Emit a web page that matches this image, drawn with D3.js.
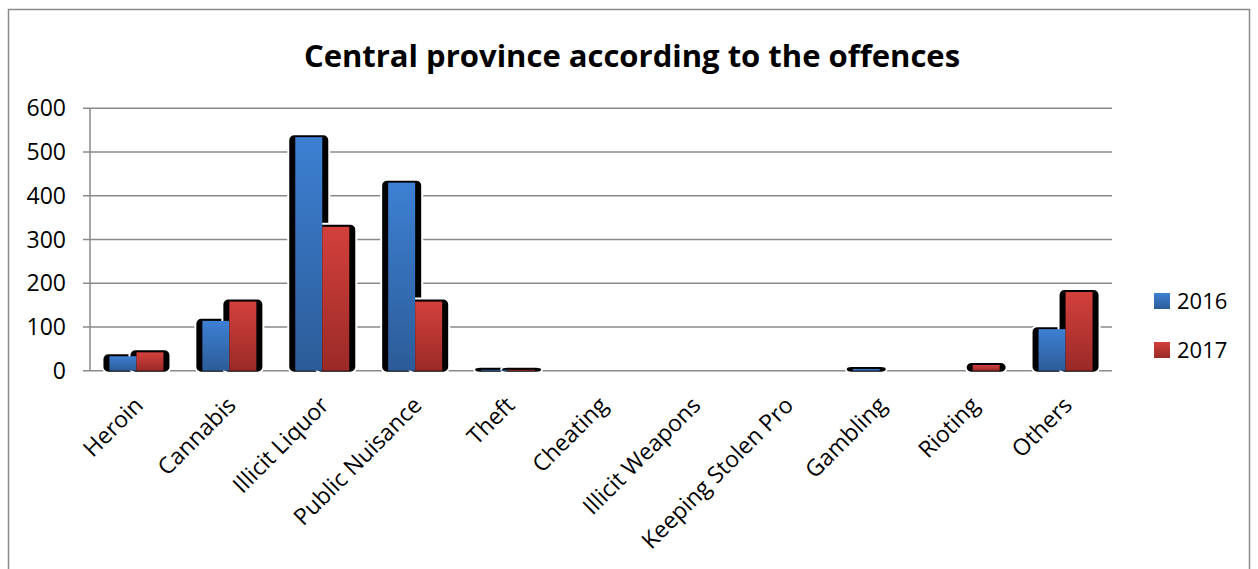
<!DOCTYPE html>
<html>
<head>
<meta charset="utf-8">
<script src="https://cdn.jsdelivr.net/npm/d3@7"></script>
<style>
  html, body { margin: 0; padding: 0; background: #fff; }
  svg { display: block; font-family: "Open Sans", "DejaVu Sans", sans-serif; }
</style>
</head>
<body>
<svg id="chart" width="1258" height="569"></svg>
<script>
// Offence categories and yearly counts
const categories = ["Heroin", "Cannabis", "Illicit Liquor", "Public Nuisance", "Theft", "Cheating",
  "Illicit Weapons", "Keeping Stolen Pro", "Gambling", "Rioting", "Others"];
const series = ["2016", "2017"];
const values2016 = [33, 114, 534, 430, 2, 0, 0, 0, 4, 0, 95];
const values2017 = [42, 158, 329, 158, 2, 0, 0, 0, 0, 13, 180];
const yTicks = [0, 100, 200, 300, 400, 500, 600];

const svg = d3.select("#chart");

// Outer frame
svg.append("rect")
  .attr("x", 8.5).attr("y", 9.5).attr("width", 1241).attr("height", 620)
  .attr("fill", "#fff").attr("stroke", "#8a8a8a").attr("stroke-width", 1.5);

// Gradients for bar fronts
const defs = svg.append("defs");
const grads = { "2016": ["#3d80d3", "#2c5c98"], "2017": ["#d3403c", "#9a2a27"] };
Object.entries(grads).forEach(([k, [c0, c1]]) => {
  const g = defs.append("linearGradient").attr("id", "g" + k)
    .attr("x1", 0).attr("y1", 0).attr("x2", 0).attr("y2", 1);
  g.append("stop").attr("offset", "0%").attr("stop-color", c0);
  g.append("stop").attr("offset", "100%").attr("stop-color", c1);
});

const plot = { left: 90, right: 1112, top: 108.3, bottom: 370.7 };

const x0 = d3.scaleBand().domain(categories).range([plot.left, plot.right]).paddingInner(0).paddingOuter(0);
const x1 = d3.scaleBand().domain(series).range([0, x0.bandwidth()]).paddingInner(0).paddingOuter(0.72);
const y = d3.scaleLinear().domain([0, 600]).range([plot.bottom, plot.top]);

// Title
svg.append("text")
  .attr("x", 632).attr("y", 67)
  .attr("text-anchor", "middle")
  .attr("font-size", 31).attr("font-weight", 700)
  .attr("fill", "#000")
  .text("Central province according to the offences");

// Gridlines with small ticks to the left of the axis
svg.append("g").selectAll("line").data(yTicks).join("line")
  .attr("x1", plot.left - 7).attr("x2", plot.right)
  .attr("y1", d => y(d)).attr("y2", d => y(d))
  .attr("stroke", "#8a8a8a").attr("stroke-width", 1.5);

// Vertical axis line
svg.append("line")
  .attr("x1", plot.left).attr("x2", plot.left)
  .attr("y1", plot.top).attr("y2", plot.bottom)
  .attr("stroke", "#8a8a8a").attr("stroke-width", 1.5);

// Y tick labels
svg.append("g").selectAll("text").data(yTicks).join("text")
  .attr("x", 66).attr("y", d => y(d) + 8)
  .attr("text-anchor", "end")
  .attr("font-size", 23).attr("fill", "#000")
  .text(d => d);

// Flatten bar records
const bars = [];
categories.forEach((c, i) => {
  bars.push({ cat: c, s: "2016", v: values2016[i] });
  bars.push({ cat: c, s: "2017", v: values2017[i] });
});
const shown = bars.filter(d => d.v > 0);

// Dark soft outline behind each bar
svg.append("g").selectAll("rect").data(shown).join("rect")
  .attr("x", d => x0(d.cat) + x1(d.s) - 7)
  .attr("y", d => y(d.v) - 3)
  .attr("width", x1.bandwidth() + 14)
  .attr("height", d => plot.bottom - y(d.v) + 5)
  .attr("rx", 6).attr("ry", 6)
  .attr("fill", "#000")
  .attr("stroke", "#fff").attr("stroke-width", 2);

// Bar fronts
svg.append("g").selectAll("rect").data(shown).join("rect")
  .attr("x", d => x0(d.cat) + x1(d.s))
  .attr("y", d => y(d.v))
  .attr("width", x1.bandwidth())
  .attr("height", d => plot.bottom - y(d.v))
  .attr("fill", d => `url(#g${d.s})`);

// Category labels, rotated
svg.append("g").selectAll("text").data(categories).join("text")
  .attr("transform", d => `translate(${x0(d) + x0.bandwidth() / 2 + 8},${plot.bottom + 36}) rotate(-45)`)
  .attr("text-anchor", "end")
  .attr("font-size", 23).attr("fill", "#000")
  .text(d => d);

// Legend
const legend = svg.append("g").selectAll("g").data(series).join("g")
  .attr("transform", (d, i) => `translate(1154,${293 + i * 49})`);
legend.append("rect").attr("width", 16).attr("height", 16)
  .attr("fill", d => `url(#g${d})`);
legend.append("text").attr("x", 23).attr("y", 16)
  .attr("font-size", 22).attr("fill", "#000")
  .text(d => d);
</script>
</body>
</html>
